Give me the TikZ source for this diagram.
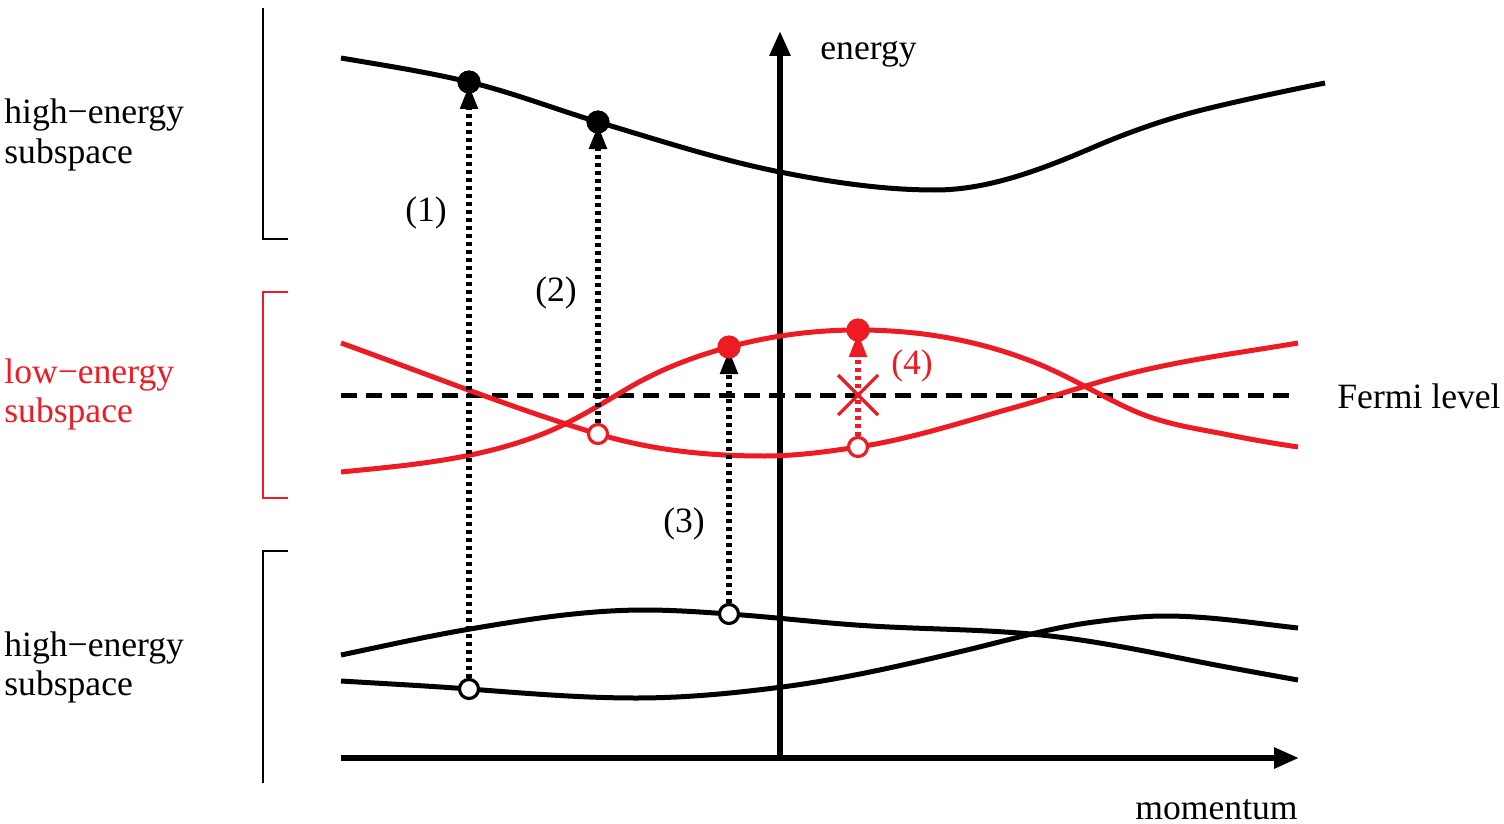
\documentclass[tikz,border=0pt]{standalone}
\usepackage{fontspec}
\setmainfont{Liberation Serif}
\usetikzlibrary{arrows.meta}
\definecolor{bandred}{RGB}{237,28,36}
\begin{document}
\begin{tikzpicture}[x=0.5pt,y=-0.5pt,
  every node/.style={font=\fontsize{17.8}{19}\selectfont, inner sep=0pt},
  band/.style={line width=2.5pt, line join=round},
  axis/.style={line width=2.9pt, -{Triangle[length=12.5pt,width=10pt]}},
  bracket/.style={line width=1.1pt},
  fulldot/.style={circle, fill, minimum size=11.5pt, inner sep=0pt},
  opendot/.style={circle, draw, fill=white, line width=1.6pt, minimum size=9.5pt, inner sep=0pt},
  trans/.style={line width=2.6pt, dash pattern=on 2pt off 2pt, shorten >=1.5pt,
    -{Triangle[length=12pt,width=8.5pt]}},
  lbl/.style={anchor=base west}
]
\useasboundingbox (0,0) rectangle (1504,824);

% brackets
\draw[bracket] (263,8) -- (263,239) -- (288,239);
\draw[bracket, bandred] (288,292) -- (263,292) -- (263,498) -- (288,498);
\draw[bracket] (288,551) -- (263,551) -- (263,783);

% side labels
\node[lbl] (h1a) at (4,124) {high−energy};
\node[lbl] (h1b) at (4,163) {subspace};
\node[lbl, text=bandred] (l1a) at (4,383) {low−energy};
\node[lbl, text=bandred] (l1b) at (4,422) {subspace};
\node[lbl] (h2a) at (4,656) {high−energy};
\node[lbl] (h2b) at (4,695) {subspace};

% axes
\coordinate (origin) at (780,758);
\coordinate (xleft) at (341,758);
\coordinate (xend) at (1299,758);
\coordinate (yend) at (780,31);
\draw[axis] (xleft) -- (xend);
\draw[axis] (origin) -- (yend);
\node[lbl] (elabel) at (820,60) {energy};
\node[anchor=base east] (mlabel) at (1298,819) {momentum};

% Fermi level
\coordinate (fl) at (341,395);
\coordinate (fr) at (1295,395);
\draw[line width=2.5pt, dash pattern=on 8pt off 4.6pt] (fl) -- (fr);
\node[lbl] (flabel) at (1337,408) {Fermi level};

% high-energy band (top)
\draw[band] (341,58) .. controls (383.7,65.3) and (426.3,71.8) .. (469,82)
  .. controls (512,92.3) and (555,109.1) .. (598,122)
  .. controls (658.7,140.2) and (719.3,159.9) .. (780,172)
  .. controls (831.7,182.3) and (883.3,190) .. (935,190)
  .. controls (988,190) and (1041,169.8) .. (1094,147)
  .. controls (1132.7,130.4) and (1171.3,117.3) .. (1210,108)
  .. controls (1248.3,98.8) and (1286.7,90.7) .. (1325,83);

% low-energy band with maximum
\draw[band, bandred] (341,472) .. controls (407.3,465.4) and (473.7,460.2) .. (540,435)
  .. controls (568.3,424.2) and (596.7,407) .. (625,390)
  .. controls (659.7,369.2) and (694.3,356.4) .. (729,347)
  .. controls (772,335.4) and (815,330) .. (858,330)
  .. controls (917.3,330) and (976.7,339.3) .. (1036,363)
  .. controls (1068,375.8) and (1100,395.6) .. (1132,410)
  .. controls (1164.3,424.5) and (1196.7,428.5) .. (1229,435)
  .. controls (1252,439.6) and (1275,443.6) .. (1298,447);

% low-energy band with minimum
\draw[band, bandred] (341,343) .. controls (426.7,373.8) and (512.3,408.3) .. (598,434)
  .. controls (653.7,450.7) and (709.3,456) .. (765,456)
  .. controls (796,456) and (827,451.7) .. (858,447)
  .. controls (910.7,439.1) and (963.3,421.7) .. (1016,407)
  .. controls (1054.7,396.2) and (1093.3,382.7) .. (1132,373)
  .. controls (1187.3,359.2) and (1242.7,352.4) .. (1298,343);

% high-energy bands (bottom)
\draw[band] (341,655) .. controls (384,646) and (427,636.3) .. (470,629)
  .. controls (528.3,619.1) and (586.7,610) .. (645,610)
  .. controls (673,610) and (701,612) .. (729,614)
  .. controls (776.3,617.3) and (823.7,623.2) .. (871,626)
  .. controls (924.3,629.2) and (977.7,629.2) .. (1031,634)
  .. controls (1084,638.8) and (1137,649.4) .. (1190,660)
  .. controls (1226,667.2) and (1262,673.5) .. (1298,680);
\draw[band] (341,681) .. controls (383.7,683.6) and (426.3,685.8) .. (469,689)
  .. controls (524.7,693.2) and (580.3,698) .. (636,698)
  .. controls (684.7,698) and (733.3,693.3) .. (782,687)
  .. controls (843.7,679) and (905.3,664.8) .. (967,650)
  .. controls (1009.3,639.8) and (1051.7,627.5) .. (1094,622)
  .. controls (1117.7,618.9) and (1141.3,616) .. (1165,616)
  .. controls (1209.3,616) and (1253.7,623.1) .. (1298,628);

% occupied / empty states
\node[opendot] (o1) at (469,689) {};
\node[opendot, draw=bandred] (o2) at (598,434) {};
\node[opendot] (o3) at (729,614) {};
\node[opendot, draw=bandred] (o4) at (858,447) {};

\node[fulldot] (f1) at (469,82) {};
\node[fulldot] (f2) at (598,122) {};
\node[fulldot, fill=bandred] (f3) at (729,347) {};
\node[fulldot, fill=bandred] (f4) at (858,330) {};

% transitions
\draw[trans] (o1) -- (f1.center);
\draw[trans] (o2) -- (f2.center);
\draw[trans] (o3) -- (f3.center);
\draw[trans, bandred] (o4) -- (f4.center);

% redraw dots on top of the arrow tips
\node[fulldot] at (f1.center) {};
\node[fulldot] at (f2.center) {};
\node[fulldot, fill=bandred] at (f3.center) {};
\node[fulldot, fill=bandred] at (f4.center) {};

% forbidden cross
\draw[bandred, line width=1.6pt] (838,375) -- (878,415) (838,415) -- (878,375);

% transition labels
\node (t1) at (426,213) {(1)};
\node (t2) at (556,293) {(2)};
\node (t3) at (684,524) {(3)};
\node[text=bandred] (t4) at (912,366) {(4)};
\end{tikzpicture}
\end{document}
